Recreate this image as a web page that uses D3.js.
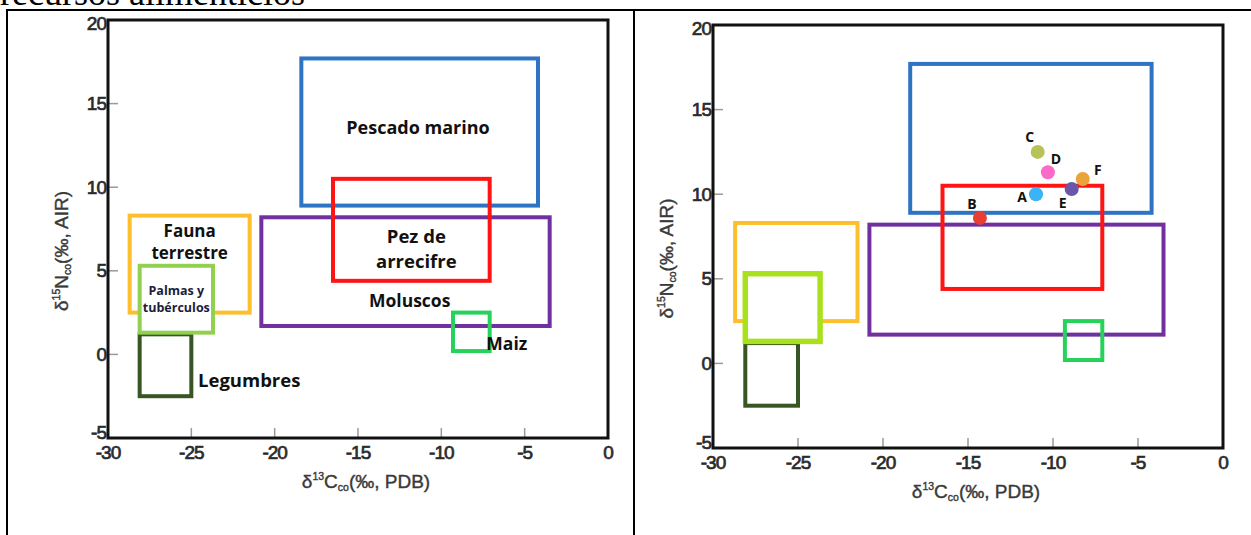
<!DOCTYPE html>
<html>
<head>
<meta charset="utf-8">
<script src="https://cdn.jsdelivr.net/npm/d3@7"></script>
<style>
  body { margin: 0; background: #fff; }
  svg { display: block; }
</style>
</head>
<body>
<svg id="chart"></svg>
<script>
// food source ranges (d13C, d15N), same boxes on both panels
const boxNames = ["Pescado marino", "Moluscos", "Fauna terrestre", "Pez de arrecifre", "Maiz", "Legumbres", "Palmas y tubérculos"];
const boxC13Min = [-18.4, -20.8, -28.7, -16.5, -9.3, -28.1, -28.1];
const boxC13Max = [-4.2, -3.5, -21.5, -7.1, -7.1, -25.0, -23.7];
const boxN15Min = [8.9, 1.7, 2.5, 4.4, 0.2, -2.5, 1.3];
const boxN15Max = [17.7, 8.2, 8.3, 10.5, 2.5, 1.2, 5.3];
const boxColors = ["#2e74c2", "#7030a0", "#fdbf2d", "#ff1414", "#27d25a", "#375623", "#92d050"];

// samples on the right panel
const pointIds = ["A", "B", "C", "D", "E", "F"];
const pointC13 = [-11.0, -14.3, -10.9, -10.3, -8.9, -8.25];
const pointN15 = [10.0, 8.6, 12.5, 11.3, 10.3, 10.9];
const pointColors = ["#3cb3f6", "#ec3d33", "#b5c357", "#fb6ac6", "#6b56a9", "#eba33c"];

const xTicks = [-30, -25, -20, -15, -10, -5, 0];
const yTicks = [-5, 0, 5, 10, 15, 20];

const width = 1251, height = 535;
const svg = d3.select("#chart").attr("width", width).attr("height", height);

// caption cut off at the top + table borders
svg.append("text")
    .attr("x", 0).attr("y", 5)
    .attr("font-family", "Liberation Serif, serif")
    .attr("font-size", 36)
    .text("recursos alimenticios");

const borders = svg.append("g").attr("stroke", "#000").attr("stroke-width", 2);
borders.append("line").attr("x1", 6).attr("x2", width).attr("y1", 10).attr("y2", 10);
borders.append("line").attr("x1", 7).attr("x2", 7).attr("y1", 10).attr("y2", height);
borders.append("line").attr("x1", 634).attr("x2", 634).attr("y1", 10).attr("y2", height);

// annotations for the left panel (layout only)
const leftLabels = [
    { lines: ["Pescado marino"], x: -11.4, y: 13.6, size: 18, anchor: "middle" },
    { lines: ["Fauna", "terrestre"], x: -25.1, y: 6.8, size: 17, anchor: "middle", gap: 22 },
    { lines: ["Palmas y", "tubérculos"], x: -25.9, y: 3.35, size: 12.5, anchor: "middle", gap: 17, fill: "#1c1c3c" },
    { lines: ["Legumbres"], x: -24.6, y: -1.5, size: 18.5, anchor: "start" },
    { lines: ["Pez de", "arrecifre"], x: -11.5, y: 6.4, size: 18.5, anchor: "middle", gap: 25 },
    { lines: ["Moluscos"], x: -11.9, y: 3.25, size: 17.5, anchor: "middle" },
    { lines: ["Maiz"], x: -7.3, y: 0.7, size: 17.5, anchor: "start" }
];

// label offsets for the sample points, px
const pointLabelDx = [-14, -8, -8, 8, -9, 15];
const pointLabelDy = [2, -14, -15, -14, 13, -9];

function axisTitle(sel, iso, el) {
    sel.attr("font-family", "Liberation Sans, Arial, sans-serif")
        .attr("font-size", 19)
        .attr("fill", "#3a3a3a")
        .attr("stroke", "#3a3a3a").attr("stroke-width", 0.4);
    sel.append("tspan").text("δ");
    sel.append("tspan").attr("font-size", 10.5).attr("dy", -8).text(iso);
    sel.append("tspan").attr("dy", 8).text(el);
    sel.append("tspan").attr("font-size", 10.5).attr("dy", 3).text("co");
    sel.append("tspan").attr("dy", -3).text(el === "C" ? "(‰, PDB)" : "(‰, AIR)");
}

function drawPanel({ x0, x1, y0, y1, showLabels, showPoints, palmasWidth }) {
    const x = d3.scaleLinear().domain([-30, 0]).range([x0, x1]);
    const y = d3.scaleLinear().domain([-5, 20]).range([y1, y0]);
    const g = svg.append("g");

    // ticks, gray, pointing inward
    g.append("g").selectAll("line").data(xTicks.slice(1, -1)).join("line")
        .attr("x1", d => x(d)).attr("x2", d => x(d))
        .attr("y1", y1).attr("y2", y1 - 10)
        .attr("stroke", "#9a9a9a").attr("stroke-width", 1.5);
    g.append("g").selectAll("line").data(yTicks.slice(1, -1)).join("line")
        .attr("x1", x0).attr("x2", x0 + 10)
        .attr("y1", d => y(d)).attr("y2", d => y(d))
        .attr("stroke", "#9a9a9a").attr("stroke-width", 1.5);

    // boxes
    const order = [0, 1, 2, 3, 4, 5, 6];
    g.append("g").selectAll("rect").data(order).join("rect")
        .attr("x", i => x(boxC13Min[i]))
        .attr("y", i => y(boxN15Max[i]))
        .attr("width", i => x(boxC13Max[i]) - x(boxC13Min[i]))
        .attr("height", i => y(boxN15Min[i]) - y(boxN15Max[i]))
        .attr("fill", i => i === 6 ? "#fff" : "none")
        .attr("stroke", i => (i === 6 && !showLabels) ? "#a9e21c" : boxColors[i])
        .attr("stroke-width", i => i === 6 ? palmasWidth : 4);

    // frame
    g.append("rect")
        .attr("x", x0).attr("y", y0)
        .attr("width", x1 - x0).attr("height", y1 - y0)
        .attr("fill", "none").attr("stroke", "#111").attr("stroke-width", 3);

    // tick labels
    const tickFont = { family: "Liberation Sans, Arial, sans-serif", size: 19 };
    g.append("g").selectAll("text").data(xTicks).join("text")
        .attr("x", d => x(d)).attr("y", y1 + 14)
        .attr("text-anchor", "middle").attr("dominant-baseline", "central")
        .attr("font-family", tickFont.family).attr("font-size", tickFont.size)
        .attr("letter-spacing", -1)
        .attr("fill", "#2b2b2b").attr("stroke", "#2b2b2b").attr("stroke-width", 0.7)
        .text(d => d);
    g.append("g").selectAll("text").data(yTicks).join("text")
        .attr("x", x0 - 2)
        .attr("y", d => Math.min(Math.max(y(d), y0 + 3), y1 - 6))
        .attr("text-anchor", "end").attr("dominant-baseline", "central")
        .attr("font-family", tickFont.family).attr("font-size", tickFont.size)
        .attr("letter-spacing", -1)
        .attr("fill", "#2b2b2b").attr("stroke", "#2b2b2b").attr("stroke-width", 0.7)
        .text(d => d);

    // axis titles
    g.append("text")
        .attr("x", (x0 + x1) / 2 + 8).attr("y", y1 + 50)
        .attr("text-anchor", "middle")
        .call(axisTitle, "13", "C");
    g.append("text")
        .attr("transform", `translate(${x0 - 40},${(y0 + y1) / 2 + 22}) rotate(-90)`)
        .attr("text-anchor", "middle")
        .call(axisTitle, "15", "N");

    if (showLabels) {
        leftLabels.forEach(l => {
            const gap = l.gap || 0;
            const t = g.append("text")
                .attr("font-family", "Open Sans, sans-serif")
                .attr("font-weight", "bold")
                .attr("font-size", l.size)
                .attr("fill", l.fill || "#111")
                .attr("text-anchor", l.anchor)
                .attr("dominant-baseline", "central");
            l.lines.forEach((line, k) => {
                t.append("tspan")
                    .attr("x", x(l.x))
                    .attr("y", y(l.y) + (k - (l.lines.length - 1) / 2) * gap)
                    .text(line);
            });
        });
    }

    if (showPoints) {
        const idx = d3.range(pointIds.length);
        g.append("g").selectAll("circle").data(idx).join("circle")
            .attr("cx", i => x(pointC13[i]))
            .attr("cy", i => y(pointN15[i]))
            .attr("r", 7)
            .attr("fill", i => pointColors[i]);
        g.append("g").selectAll("text").data(idx).join("text")
            .attr("x", i => x(pointC13[i]) + pointLabelDx[i])
            .attr("y", i => y(pointN15[i]) + pointLabelDy[i])
            .attr("text-anchor", "middle").attr("dominant-baseline", "central")
            .attr("font-family", "Open Sans, sans-serif")
            .attr("font-weight", "bold")
            .attr("font-size", 14)
            .attr("fill", "#111")
            .text(i => pointIds[i]);
    }
}

drawPanel({ x0: 108, x1: 608, y0: 20, y1: 438, showLabels: true, showPoints: false, palmasWidth: 4 });
drawPanel({ x0: 713, x1: 1223, y0: 25, y1: 448, showLabels: false, showPoints: true, palmasWidth: 5.5 });
</script>
</body>
</html>
